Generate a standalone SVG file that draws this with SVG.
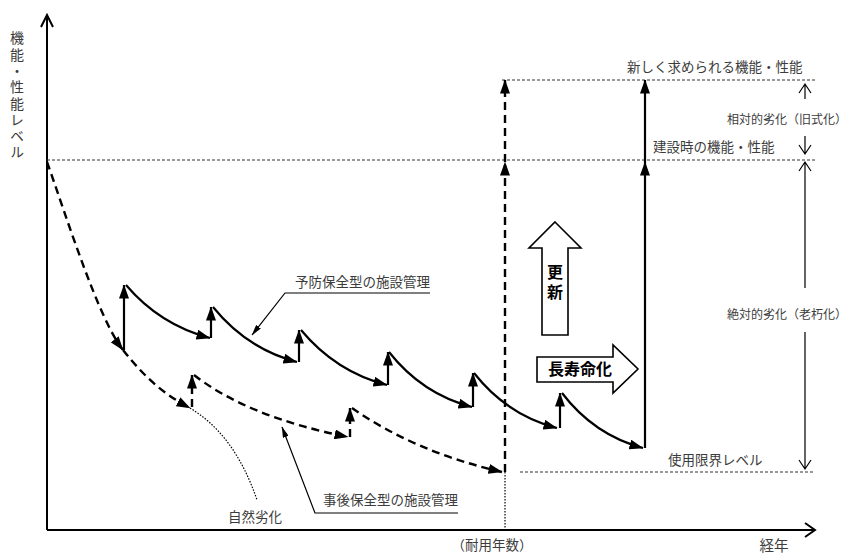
<svg xmlns="http://www.w3.org/2000/svg" width="853" height="557" viewBox="0 0 853 557">
<defs>
<style>
.t{font-family:"Noto Sans CJK JP","Noto Sans",sans-serif;fill:#3c3c3c;font-size:13.5px}
.b{font-family:"Noto Sans CJK JP","Noto Sans",sans-serif;fill:#000;font-size:16px;font-weight:bold}
.ax{stroke:#000;stroke-width:2;fill:none}
.lv{stroke:#333;stroke-width:1.2;stroke-dasharray:3 2;fill:none}
.sol{stroke:#000;stroke-width:2.2;fill:none}
.dsh{stroke:#000;stroke-width:2.4;stroke-dasharray:8 5;fill:none}
.dot{stroke:#000;stroke-width:1.2;stroke-dasharray:1.5 1.5;fill:none}
.thin{stroke:#000;stroke-width:1.2;fill:none}
.blk{stroke:#000;stroke-width:1.6;fill:#fff}
</style>
<marker id="ah" viewBox="0 0 14 10" refX="13.5" refY="5" markerWidth="14" markerHeight="10" markerUnits="userSpaceOnUse" orient="auto"><path d="M0,0 L14,5 L0,10 z" fill="#000"/></marker>
<marker id="as" viewBox="0 0 11 6" refX="10.5" refY="3" markerWidth="11" markerHeight="6" markerUnits="userSpaceOnUse" orient="auto"><path d="M0,0 L11,3 L0,6 z" fill="#000"/></marker>
</defs>
<rect width="853" height="557" fill="#fff"/>

<g id="axes">
<path class="ax" d="M47,530 V16 M41,27 L47,15 L53,27"/>
<path class="ax" d="M47,530 H815 M805,523 L815,530 L805,537"/>
<text class="t" x="17" y="31" style="writing-mode:vertical-rl;letter-spacing:2.3px;font-size:14px">機能・性能レベル</text>
<text class="t" x="774" y="551" text-anchor="middle" style="font-size:14.5px">経年</text>
<text class="t" x="492" y="550" text-anchor="middle">（耐用年数）</text>
</g>

<g id="levels">
<path class="lv" d="M502,80 H815"/>
<path class="lv" d="M47,160 H815"/>
<path class="lv" d="M520,472 H815"/>
<text class="t" x="627" y="72">新しく求められる機能・性能</text>
<text class="t" x="653" y="152">建設時の機能・性能</text>
<text class="t" x="668" y="465">使用限界レベル</text>
</g>

<g id="relative-deterioration">
<path class="thin" d="M805,84 V99 M799,93 L805,84 L811,93"/>
<path class="thin" d="M805,136 V154 M799,145 L805,154 L811,145"/>
<text class="t" x="727" y="124" style="font-size:12px">相対的劣化（旧式化）</text>
</g>

<g id="absolute-deterioration">
<path class="thin" d="M805,162 V288 M799,171 L805,162 L811,171"/>
<path class="thin" d="M805,332 V469 M799,460 L805,469 L811,460"/>
<text class="t" x="727" y="319" style="font-size:12px">絶対的劣化（老朽化）</text>
</g>

<g id="renewal">
<polygon class="blk" points="555,222 581,248 568,248 568,335 542,335 542,248 529,248"/>
<text class="b" x="555" y="264" style="writing-mode:vertical-rl;letter-spacing:4px">更新</text>
</g>

<g id="life-extension">
<polygon class="blk" points="537,357 613,357 613,345 638,369 613,393 613,382 537,382"/>
<text class="b" x="548" y="375">長寿命化</text>
</g>

<g id="label-preventive">
<text class="t" x="295" y="287">予防保全型の施設管理</text>
</g>
<g id="label-corrective">
<text class="t" x="323" y="505">事後保全型の施設管理</text>
</g>
<g id="label-natural">
<text class="t" x="228" y="522">自然劣化</text>
</g>

<g id="connectors">
<path class="dsh" d="M47,162 C67,218 98,318 123,350" marker-end="url(#ah)"/>
<path class="dsh" d="M123,350 C145,378 165,395 190,408" marker-end="url(#ah)"/>
<path class="dot" d="M190,408 Q235,435 257,500"/>
<path class="sol" d="M124,350 V285" marker-end="url(#ah)"/>
<path class="sol" d="M126,285 Q160,325 210,338" marker-end="url(#ah)"/>
<path class="sol" d="M211,338 V307" marker-end="url(#ah)"/>
<path class="sol" d="M213,307 Q247,349 297,362" marker-end="url(#ah)"/>
<path class="sol" d="M299,362 V330" marker-end="url(#ah)"/>
<path class="sol" d="M301,330 Q336,372 387,385" marker-end="url(#ah)"/>
<path class="sol" d="M388,385 V352" marker-end="url(#ah)"/>
<path class="sol" d="M389,352 Q422,394 472,407" marker-end="url(#ah)"/>
<path class="sol" d="M473,407 V373" marker-end="url(#ah)"/>
<path class="sol" d="M474,373 Q507,415 557,428" marker-end="url(#ah)"/>
<path class="sol" d="M560,428 V393" marker-end="url(#ah)"/>
<path class="sol" d="M562,393 Q594,435 643,448" marker-end="url(#ah)"/>
<path class="sol" d="M645,448 V162" marker-end="url(#ah)"/>
<path class="sol" d="M645,162 V80" marker-end="url(#ah)"/>
<path class="dsh" d="M192,407 V375" marker-end="url(#ah)"/>
<path class="dsh" d="M194,375 Q248,417 348,437" marker-end="url(#ah)"/>
<path class="dsh" d="M350,437 V408" marker-end="url(#ah)"/>
<path class="dsh" d="M352,408 Q415,452 502,472" marker-end="url(#ah)"/>
<path class="dsh" d="M505,472 V162" marker-end="url(#ah)"/>
<path class="dsh" d="M505,162 V80" marker-end="url(#ah)"/>
<path class="dot" d="M505,472 V530"/>
<path class="thin" d="M430,293 H285 L252,335" marker-end="url(#as)"/>
<path class="thin" d="M458,513 H315 L282,427" marker-end="url(#as)"/>
</g>
</svg>
